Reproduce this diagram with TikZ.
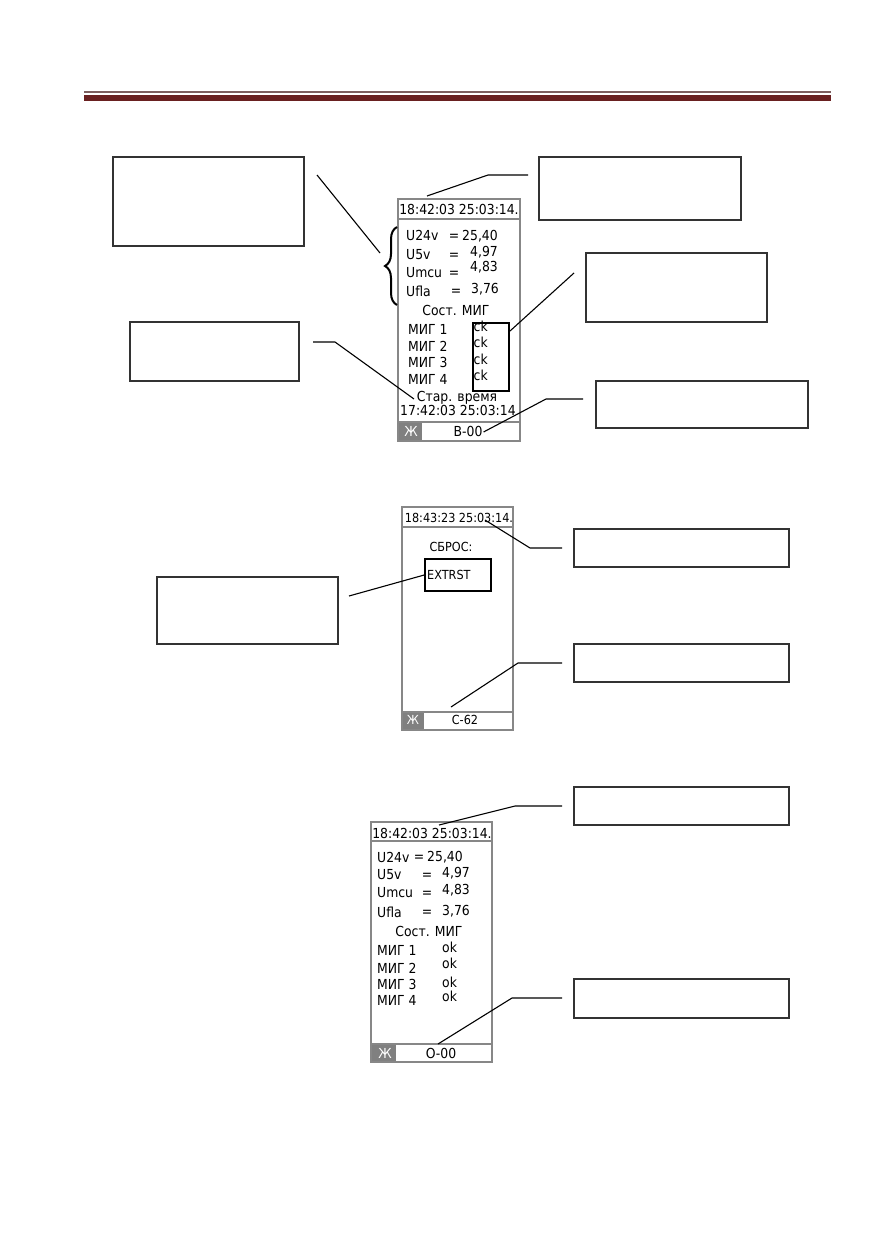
\documentclass[tikz,border=0pt]{standalone}
\usepackage{fontspec}
\setmainfont{DejaVu Sans}[FakeStretch=0.9]
\usetikzlibrary{decorations.pathreplacing}
\definecolor{barred}{RGB}{105,32,32}
\definecolor{barthin}{RGB}{125,95,95}
\definecolor{frameg}{RGB}{135,135,135}
\definecolor{cellg}{RGB}{128,128,128}
\begin{document}
\begin{tikzpicture}[x=1pt,y=-1pt,
  callout/.style={draw=black!80, line width=1.1pt, inner sep=0pt},
  lead/.style={draw=black, line width=1.1pt},
  scrframe/.style={draw=frameg, line width=1.8pt},
  sep/.style={draw=frameg, line width=1.2pt},
  txt/.style={inner sep=0pt, anchor=base, font=\fontsize{13.8}{15}\selectfont},
  ltxt/.style={txt, anchor=base west},
  txts/.style={inner sep=0pt, anchor=base, font=\fontsize{12.5}{14}\selectfont},
  ltxts/.style={txts, anchor=base west},
  boxed/.style={draw=black, line width=1.6pt},
  ]
\useasboundingbox (0,0) rectangle (874,1240);
% header rule
\draw[barthin, line width=1.5pt] (84,92) -- (831,92);
\fill[barred] (84,95) rectangle (831,101);

% ---------- callout boxes ----------
\node[callout, minimum width=191pt, minimum height=89pt] (cA) at (208.5,201.5) {};
\node[callout, minimum width=169pt, minimum height=59pt] (cB) at (214.5,351.5) {};
\node[callout, minimum width=202pt, minimum height=63pt] (cC) at (640,188.5) {};
\node[callout, minimum width=181pt, minimum height=69pt] (cD) at (676.5,287.5) {};
\node[callout, minimum width=212pt, minimum height=47pt] (cE) at (702,404.5) {};
\node[callout, minimum width=181pt, minimum height=67pt] (cF) at (247.5,610.5) {};
\node[callout, minimum width=215pt, minimum height=38pt] (cG) at (681.5,548) {};
\node[callout, minimum width=215pt, minimum height=38pt] (cH) at (681.5,663) {};
\node[callout, minimum width=215pt, minimum height=38pt] (cI) at (681.5,806) {};
\node[callout, minimum width=215pt, minimum height=39pt] (cJ) at (681.5,998.5) {};

% ---------- screen 1 ----------
\draw[scrframe] (398,199) rectangle (520,441);
\draw[sep] (399,219) -- (519,219);
\fill[cellg] (399,422) rectangle (422,440);
\draw[sep] (399,422) -- (519,422);
\node[txt] (h1) at (459,214.5) {18:42:03 25:03:14.};
\node[ltxt] (u1a) at (406,240.5) {U24v};
\node[txt] (e1a) at (454,240.5) {=};
\node[ltxt] (v1a) at (462,240) {25,40};
\node[ltxt] (u1b) at (406,259.5) {U5v};
\node[txt] (e1b) at (454,259.5) {=};
\node[ltxt] (v1b) at (470,256.5) {4,97};
\node[ltxt] (u1c) at (406,277.5) {Umcu};
\node[txt] (e1c) at (454,277.5) {=};
\node[ltxt] (v1c) at (470,271.5) {4,83};
\node[ltxt] (u1d) at (406,296.5) {Ufla};
\node[txt] (e1d) at (456,295) {=};
\node[ltxt] (v1d) at (471,293.5) {3,76};
\node[txt] (s1) at (456,315.5) {Сост. МИГ};
\node[ltxt] (m1a) at (408,334.5) {МИГ 1};
\node[ltxt] (m1b) at (408,351.5) {МИГ 2};
\node[ltxt] (m1c) at (408,367.5) {МИГ 3};
\node[ltxt] (m1d) at (408,384.5) {МИГ 4};
\node[ltxt] (k1a) at (473.5,331.5) {ck};
\node[ltxt] (k1b) at (473.5,347.5) {ck};
\node[ltxt] (k1c) at (473.5,364.5) {ck};
\node[ltxt] (k1d) at (473.5,380.5) {ck};
\draw[boxed] (473,323) rectangle (509,391);
\coordinate (ckR) at (510,331);
\node[txt] (st1) at (457,401.5) {Стар. время};
\node[txt] (t1) at (458,415.5) {17:42:03 25:03:14};
\node[txt, text=white] (zh1) at (411,436) {Ж};
\node[txt] (b00) at (468,436) {B-00};
\draw[line width=2pt, decorate, decoration={brace, amplitude=12pt}] (397,305) -- (397,227);
\coordinate (braceA) at (380,253);

% leads, screen 1
\coordinate (a1) at (317,175);
\draw[lead] (a1) -- (braceA);
\coordinate (c1) at (528,175);
\coordinate (h1top) at (427,196);
\draw[lead] (c1) -- (488,175) -- (h1top);
\coordinate (d1) at (574,273);
\draw[lead] (d1) -- (ckR);
\coordinate (e1) at (583,399);
\draw[lead] (e1) -- (546,399) -- ([xshift=1pt,yshift=-1pt]b00.east);
\coordinate (bb1) at (313,342);
\coordinate (st1L) at (414,399);
\draw[lead] (bb1) -- (335,342) -- (st1L);

% ---------- screen 2 ----------
\draw[scrframe] (402,507) rectangle (513,730);
\draw[sep] (403,527) -- (512,527);
\fill[cellg] (403,712) rectangle (424,729);
\draw[sep] (403,712) -- (512,712);
\node[txts] (h2) at (459,522) {18:43:23 25:03:14.};
\node[txts] (sb) at (451,551) {СБРОС:};
\node[draw=black, line width=1.6pt, minimum width=66pt, minimum height=32pt, inner sep=0pt] (ext) at (458,575) {};
\node[ltxts] (extT) at (427,579) {EXTRST};
\node[txts, text=white] (zh2) at (413,724.5) {Ж};
\node[txts] (c62) at (465,724.5) {С-62};
% leads, screen 2
\coordinate (f1) at (349,596);
\draw[lead] (f1) -- (ext.west);
\coordinate (g1) at (562,548);
\coordinate (h2pt) at (485,520);
\draw[lead] (g1) -- (530,548) -- (h2pt);
\coordinate (hh1) at (562,663);
\coordinate (c62top) at (451,707);
\draw[lead] (hh1) -- (518,663) -- (c62top);

% ---------- screen 3 ----------
\draw[scrframe] (371,822) rectangle (492,1062);
\draw[sep] (372,841) -- (491,841);
\fill[cellg] (372,1044) rectangle (396,1061);
\draw[sep] (372,1044) -- (491,1044);
\node[txt] (h3) at (432,838.5) {18:42:03 25:03:14.};
\node[ltxt] (u3a) at (377,862.5) {U24v};
\node[txt] (e3a) at (419,861) {=};
\node[ltxt] (v3a) at (427,861) {25,40};
\node[ltxt] (u3b) at (377,879.5) {U5v};
\node[txt] (e3b) at (427,879.5) {=};
\node[ltxt] (v3b) at (442,877.5) {4,97};
\node[ltxt] (u3c) at (377,897.5) {Umcu};
\node[txt] (e3c) at (427,897.5) {=};
\node[ltxt] (v3c) at (442,894.5) {4,83};
\node[ltxt] (u3d) at (377,917.5) {Ufla};
\node[txt] (e3d) at (427,916.5) {=};
\node[ltxt] (v3d) at (442,915.5) {3,76};
\node[txt] (s3) at (429,936.5) {Сост. МИГ};
\node[ltxt] (m3a) at (377,955.5) {МИГ 1};
\node[ltxt] (m3b) at (377,973.5) {МИГ 2};
\node[ltxt] (m3c) at (377,989.5) {МИГ 3};
\node[ltxt] (m3d) at (377,1005.5) {МИГ 4};
\node[ltxt] (k3a) at (442,952.5) {ok};
\node[ltxt] (k3b) at (442,968.5) {ok};
\node[ltxt] (k3c) at (442,987.5) {ok};
\node[ltxt] (k3d) at (442,1001.5) {ok};
\node[txt, text=white] (zh3) at (385,1058) {Ж};
\node[txt] (o00) at (441,1058) {O-00};
% leads, screen 3
\coordinate (i1) at (562,806);
\coordinate (h3pt) at (439,825);
\draw[lead] (i1) -- (515,806) -- (h3pt);
\coordinate (j1) at (562,998);
\coordinate (o00top) at (438,1044);
\draw[lead] (j1) -- (512,998) -- (o00top);
\end{tikzpicture}
\end{document}
